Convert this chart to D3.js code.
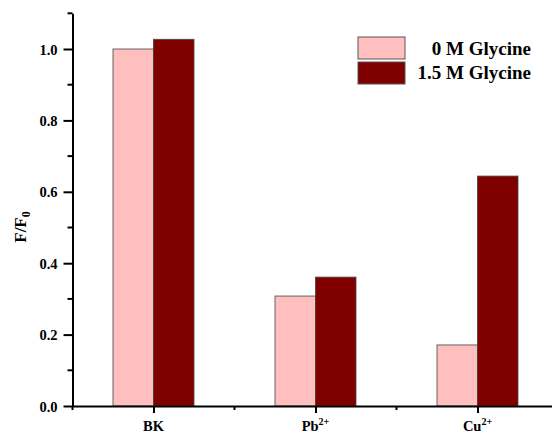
<!DOCTYPE html>
<html>
<head>
<meta charset="utf-8">
<script src="https://cdn.jsdelivr.net/npm/d3@7"></script>
<style>
  body { margin: 0; background: #fff; }
  text { font-family: "Liberation Serif", "Times New Roman", serif; font-weight: bold; fill: #000; }
</style>
</head>
<body>
<div id="chart"></div>
<script>
// data
const categories = ["BK", "Pb", "Cu"];
const superscripts = ["", "2+", "2+"];
const seriesNames = ["0 M Glycine", "1.5 M Glycine"];
const glycine0 = [1.0, 0.308, 0.171];
const glycine15 = [1.027, 0.361, 0.644];
const yTicks = [0, 0.2, 0.4, 0.6, 0.8, 1.0];
const colors = ["#FFBFBF", "#800000"];

const W = 552, H = 433;

const svg = d3.select("#chart")
  .append("svg")
    .attr("width", W)
    .attr("height", H);

// scales - categories sit at 1,2,3
const x = d3.scaleLinear().domain([0.5, 3.5]).range([72.5, 558.5]);
const y = d3.scaleLinear().domain([0, 1.1]).range([406, 13.3]);
const barW = 0.25;

// bars
const series = [glycine0, glycine15];
series.forEach(function(vals, s) {
  svg.append("g")
    .selectAll("rect")
    .data(vals)
    .join("rect")
      .attr("x", (d, i) => x(i + 1 - barW + s * barW))
      .attr("y", d => y(d))
      .attr("width", x(barW) - x(0))
      .attr("height", d => y(0) - y(d))
      .attr("fill", colors[s])
      .attr("stroke", "#444")
      .attr("stroke-opacity", 0.8)
      .attr("stroke-width", 1);
});

// y axis
const yAxis = svg.append("g")
  .attr("transform", `translate(${x(0.5)},0)`)
  .call(d3.axisLeft(y).tickValues(yTicks).tickFormat(d3.format(".1f")).tickSize(9).tickSizeOuter(0));
yAxis.select(".domain").attr("stroke-width", 2);
yAxis.selectAll(".tick line").attr("stroke-width", 2);
yAxis.selectAll(".tick text").attr("font-size", 14.5).attr("x", -15).attr("dy", "0.35em")
  .style("font-family", "Liberation Serif").style("font-weight", "bold");

// minor y ticks
svg.append("g")
  .selectAll("line")
  .data([0.1, 0.3, 0.5, 0.7, 0.9, 1.1])
  .join("line")
    .attr("x1", x(0.5) - 5)
    .attr("x2", x(0.5))
    .attr("y1", d => y(d))
    .attr("y2", d => y(d))
    .attr("stroke", "#000")
    .attr("stroke-width", 2);

// x axis
const xAxis = svg.append("g")
  .attr("transform", `translate(0,${y(0)})`)
  .call(d3.axisBottom(x).tickValues([1, 2, 3]).tickFormat("").tickSize(7).tickSizeOuter(0));
xAxis.select(".domain").attr("stroke-width", 2);
xAxis.selectAll(".tick line").attr("stroke-width", 2);

// minor x ticks
svg.append("g")
  .selectAll("line")
  .data([0.5, 1.5, 2.5])
  .join("line")
    .attr("x1", d => x(d))
    .attr("x2", d => x(d))
    .attr("y1", y(0))
    .attr("y2", y(0) + 4)
    .attr("stroke", "#000")
    .attr("stroke-width", 2);

// category labels with superscripts
const lab = svg.append("g")
  .selectAll("text")
  .data(categories)
  .join("text")
    .attr("x", (d, i) => x(i + 1))
    .attr("y", 431)
    .attr("text-anchor", "middle")
    .attr("font-size", 14.5);
lab.append("tspan").text(d => d);
lab.append("tspan")
  .attr("font-size", 10)
  .attr("dy", -6)
  .text((d, i) => superscripts[i]);

// y label F/F0
const yl = svg.append("text")
  .attr("transform", "translate(26,227) rotate(-90)")
  .attr("text-anchor", "middle")
  .attr("font-size", 17);
yl.append("tspan").text("F/F");
yl.append("tspan").attr("font-size", 12).attr("dy", 4).text("0");

// legend
const leg = svg.append("g");
seriesNames.forEach(function(name, i) {
  leg.append("rect")
    .attr("x", 358)
    .attr("y", 37 + i * 25)
    .attr("width", 47)
    .attr("height", 22)
    .attr("fill", colors[i])
    .attr("stroke", "#555")
    .attr("stroke-width", 1);
  leg.append("text")
    .attr("x", 531)
    .attr("y", 55 + i * 24)
    .attr("text-anchor", "end")
    .attr("font-size", 19)
    .text(name);
});
</script>
</body>
</html>
